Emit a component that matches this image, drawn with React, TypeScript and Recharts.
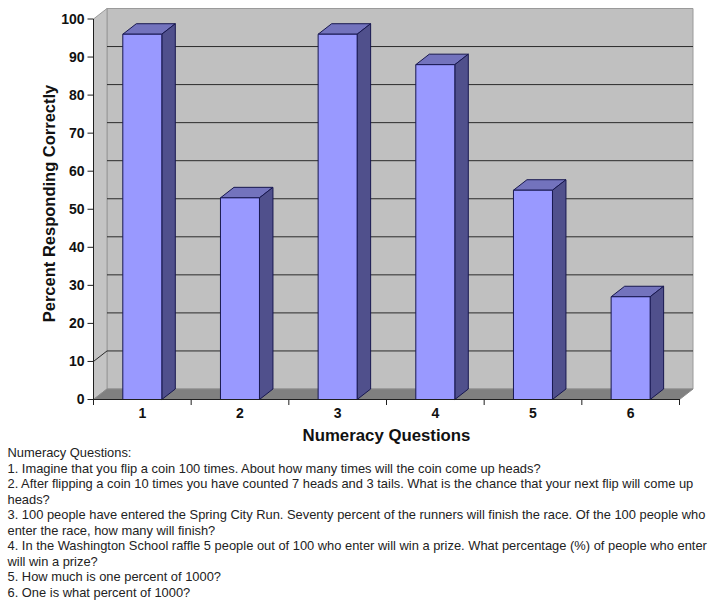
import { BarChart, Bar, XAxis, YAxis, CartesianGrid, Label, usePlotArea } from "recharts";

const questions = ["1", "2", "3", "4", "5", "6"];
const percentCorrect = [96, 53, 96, 88, 55, 27];
const yTicks = [0, 10, 20, 30, 40, 50, 60, 70, 80, 90, 100];
const noteLines = [
  "Numeracy Questions:",
  "1. Imagine that you flip a coin 100 times. About how many times will the coin come up heads?",
  "2. After flipping a coin 10 times you have counted 7 heads and 3 tails. What is the chance that your next flip will come up",
  "heads?",
  "3. 100 people have entered the Spring City Run. Seventy percent of the runners will finish the race. Of the 100 people who",
  "enter the race, how many will finish?",
  "4. In the Washington School raffle 5 people out of 100 who enter will win a prize. What percentage (%) of people who enter",
  "will win a prize?",
  "5. How much is one percent of 1000?",
  "6. One is what percent of 1000?",
];

const data = questions.map((q, i) => ({ q, value: percentCorrect[i] }));

const DX = 13.5;
const DY = 10.5;
const FONT = "'Liberation Sans', Arial, sans-serif";
const INK = "#1f1f1f";

// side walls and floor behind the grid
const Walls = () => {
  const p = usePlotArea();
  if (!p) return null;
  const l = p.x;
  const r = p.x + p.width;
  const t = p.y;
  const b = p.y + p.height;
  return (
    <g>
      <polygon points={`${l + DX},${t - DY} ${r + DX},${t - DY} ${r + DX},${b - DY} ${l + DX},${b - DY}`} fill="#c0c0c0" stroke="#9a9a9a" />
      <polygon points={`${l},${t} ${l + DX},${t - DY} ${l + DX},${b - DY} ${l},${b}`} fill="#c4c4c4" stroke="#9a9a9a" />
      <polygon points={`${l},${b} ${l + DX},${b - DY} ${r + DX},${b - DY} ${r},${b}`} fill="#808080" stroke="#8a8a8a" />
    </g>
  );
};

const gridLine = (props: any) => {
  const { x1, x2, y1, index } = props;
  // first and last lines sit on the floor and the top edge
  if (index === 0 || index === yTicks.length - 1) return <g key={props.key} />;
  return (
    <g key={props.key}>
      <line x1={x1 + DX} x2={x2 + DX} y1={y1 - DY} y2={y1 - DY} stroke="#2a2a2a" strokeWidth={1} />
      {y1 > 350 && <line x1={x1} x2={x1 + DX} y1={y1} y2={y1 - DY} stroke="#2a2a2a" strokeWidth={1} />}
    </g>
  );
};

const Bar3D = (props: any) => {
  const { x, y, width, height } = props;
  const b = y + height;
  const r = x + width;
  return (
    <g stroke="#17174f" strokeWidth={1} strokeLinejoin="round">
      <polygon points={`${x},${y} ${x + DX},${y - DY} ${r + DX},${y - DY} ${r},${y}`} fill="#7373bd" />
      <polygon points={`${r},${y} ${r + DX},${y - DY} ${r + DX},${b - DY} ${r},${b}`} fill="#50508c" />
      <rect x={x} y={y} width={width} height={height} fill="#9999ff" />
    </g>
  );
};

const XTick = (props: any) => {
  const { x, y, payload, index } = props;
  const band = 586 / questions.length;
  const left = x - band / 2;
  return (
    <g>
      <line x1={left} x2={left} y1={399} y2={405} stroke={INK} />
      {index === questions.length - 1 && <line x1={x + band / 2} x2={x + band / 2} y1={399} y2={405} stroke={INK} />}
      <text x={x} y={y + 10} textAnchor="middle" fontFamily={FONT} fontSize={14} fontWeight="bold" fill="#111">
        {payload.value}
      </text>
    </g>
  );
};

export default function App() {
  return (
    <div style={{ position: "absolute", left: 0, top: 0, width: 719, height: 608, background: "#fff" }}>
      <BarChart
        width={719}
        height={446}
        data={data}
        margin={{ top: 19, right: 39.5, bottom: 0, left: 0 }}
        barCategoryGap="30%"
      >
        <Walls />
        <CartesianGrid vertical={false} horizontal={gridLine} zIndex={100} />
        <XAxis
          dataKey="q"
          height={46.5}
          axisLine={{ stroke: INK }}
          tickLine={false}
          tick={<XTick />}
          interval={0}
        >
          <Label
            value="Numeracy Questions"
            position="insideBottom"
            offset={5}
            style={{ fontFamily: FONT, fontSize: 16.8, fontWeight: "bold", fill: "#111" }}
          />
        </XAxis>
        <YAxis
          width={93.5}
          domain={[0, 100]}
          ticks={yTicks}
          interval={0}
          tickSize={6}
          tickMargin={3}
          axisLine={{ stroke: INK }}
          tickLine={{ stroke: INK }}
          tick={{ fontFamily: FONT, fontSize: 14, fontWeight: "bold", fill: "#111" }}
        >
          <Label
            value="Percent Responding Correctly"
            angle={-90}
            position={{ x: 55, y: 184.5 }}
            style={{ fontFamily: FONT, fontSize: 16.5, fontWeight: "bold", fill: "#111", textAnchor: "middle" }}
          />
        </YAxis>
        <Bar dataKey="value" shape={<Bar3D />} isAnimationActive={false} />
      </BarChart>
      <div style={{ position: "absolute", left: 7.5, top: 445, width: 711, fontFamily: FONT, fontSize: 12.9, lineHeight: "15.55px", color: "#222" }}>
        {noteLines.map((line) => (
          <div key={line} style={{ whiteSpace: "nowrap" }}>{line}</div>
        ))}
      </div>
    </div>
  );
}
